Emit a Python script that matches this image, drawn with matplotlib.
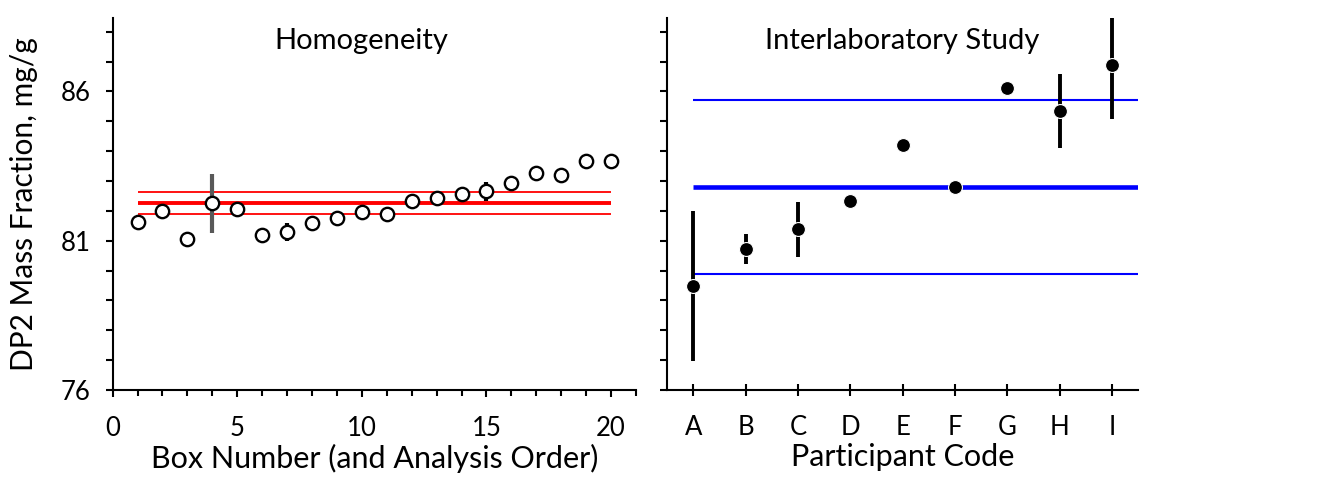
import matplotlib.pyplot as plt
from matplotlib.ticker import MultipleLocator

plt.rcParams['font.family'] = ['Lato', 'DejaVu Sans']

# Homogeneity: box number vs mass fraction
boxes = list(range(1, 21))
homog = [81.64, 81.99, 81.05, 82.25, 82.07, 81.18, 81.29, 81.60, 81.76, 81.96,
         81.90, 82.34, 82.44, 82.58, 82.66, 82.92, 83.28, 83.21, 83.66, 83.68]
homog_err = [0, 0, 0, 1.0, 0, 0, 0.3, 0, 0, 0,
             0, 0, 0, 0, 0.32, 0, 0, 0, 0, 0]
homog_mean = 82.28
homog_band = [81.90, 82.63]

# Interlaboratory study
codes = ["A", "B", "C", "D", "E", "F", "G", "H", "I"]
lab = [79.48, 80.72, 81.38, 82.34, 84.19, 82.80, 86.13, 85.34, 86.89]
lab_err = [2.5, 0.5, 0.93, 0, 0, 0, 0, 1.23, 1.81]
lab_mean = 82.79
lab_band = [79.88, 85.70]

yticks = [76, 81, 86]

fig = plt.figure(figsize=(13.3, 4.78), dpi=100)
ax1 = fig.add_axes([0.0847, 0.1841, 0.3935, 0.7776])
ax2 = fig.add_axes([0.5017, 0.1841, 0.3539, 0.7776])

ylim = (76, 88.45)

# --- left panel ---
ax1.hlines(homog_band, 1, 20, color="#ff0000", lw=1.3, zorder=1)
ax1.hlines(homog_mean, 1, 20, color="#ff0000", lw=2.8, zorder=1)
for x, y, e in zip(boxes, homog, homog_err):
    if e > 0:
        c = "#595959" if e > 0.5 else "black"
        ax1.vlines(x, y - e, y + e, color=c, lw=3, zorder=2)
ax1.plot(boxes, homog, "o", ms=9.6, mfc="white", mec="black", mew=1.7, zorder=3)
ax1.set_xlim(0, 21)
ax1.set_ylim(*ylim)
ax1.xaxis.set_major_locator(MultipleLocator(5))
ax1.xaxis.set_minor_locator(MultipleLocator(1))
ax1.set_yticks(yticks)
ax1.yaxis.set_minor_locator(MultipleLocator(1))
ax1.set_ylabel("DP2 Mass Fraction, mg/g", fontsize=21.5, labelpad=16)
ax1.set_xlabel("Box Number (and Analysis Order)", fontsize=22, labelpad=2)
ax1.text(0.475, 0.975, "Homogeneity", transform=ax1.transAxes, ha="center", va="top", fontsize=21)

# --- right panel ---
xs = list(range(1, len(codes) + 1))
ax2.hlines(lab_band, 1, 9.5, color="#0000ff", lw=1.5, zorder=1)
ax2.hlines(lab_mean, 1, 9.5, color="#0000ff", lw=3.3, zorder=1)
for x, y, e in zip(xs, lab, lab_err):
    if e > 0:
        ax2.vlines(x, y - e, y + e, color="black", lw=2.8, zorder=2)
ax2.plot(xs, lab, "o", ms=10, mfc="black", mec="white", mew=0.8, zorder=3)
ax2.set_xlim(0.5, 9.5)
ax2.set_ylim(*ylim)
ax2.set_xticks(xs)
ax2.set_xticklabels(codes)
ax2.set_yticks(yticks)
ax2.yaxis.set_minor_locator(MultipleLocator(1))
ax2.set_yticklabels([])
ax2.set_xlabel("Participant Code", fontsize=22, labelpad=2)
ax2.text(0.5, 0.975, "Interlaboratory Study", transform=ax2.transAxes, ha="center", va="top", fontsize=21)

for ax in (ax1, ax2):
    for s in ("top", "right"):
        ax.spines[s].set_visible(False)
    for s in ("left", "bottom"):
        ax.spines[s].set_linewidth(1.5)
    ax.tick_params(axis="both", which="both", width=1.5, labelsize=18.5)
    ax.tick_params(axis="y", which="both", length=5, direction="out", pad=11)
    ax.tick_params(axis="x", which="major", pad=13.5)

ax1.tick_params(axis="x", which="major", length=5, direction="out")
ax1.tick_params(axis="x", which="minor", length=4, direction="out")
ax2.tick_params(axis="x", which="major", length=9, direction="inout")

fig.savefig("out.png", dpi=100)
